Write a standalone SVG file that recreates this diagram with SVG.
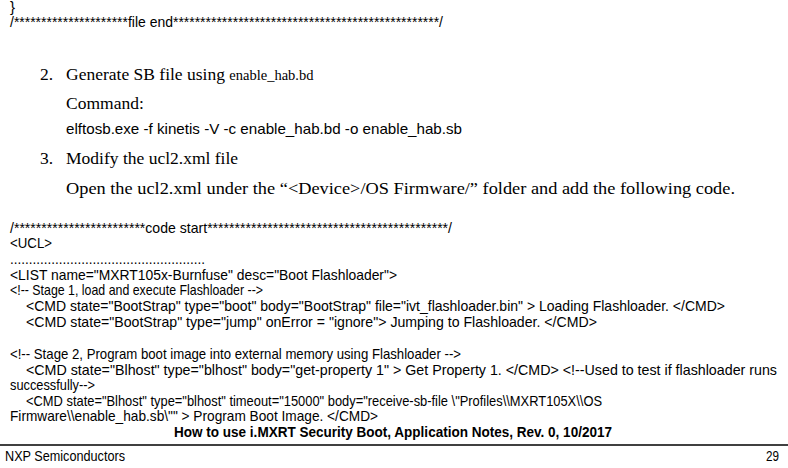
<svg xmlns="http://www.w3.org/2000/svg" width="788" height="468" viewBox="0 0 788 468">
<style>
.c{font-family:"Liberation Sans",Arial,sans-serif;font-size:15px;fill:#000}
.s{font-family:"Liberation Serif","Times New Roman",serif;font-size:17.5px;fill:#000}
.ss{font-family:"Liberation Serif","Times New Roman",serif;font-size:14.5px;fill:#000}
.a{font-family:"Liberation Sans",Arial,sans-serif;font-size:15px;fill:#000}
.b{font-family:"Liberation Sans",Arial,sans-serif;font-size:15px;font-weight:bold;fill:#000}
</style>
<rect width="788" height="468" fill="#fff"/>
<g id="top-code">
<text class="c" x="10" y="12">}</text>
<text class="c" x="10" y="27" textLength="433" lengthAdjust="spacingAndGlyphs">/*********************file  end*************************************************/</text>
</g>
<g id="step2">
<text class="s" x="40" y="80">2.</text>
<text class="s" x="66" y="80">Generate SB file using <tspan class="ss">enable_hab.bd</tspan></text>
<text class="s" x="66" y="109">Command:</text>
<text class="a" x="66" y="134" textLength="396" lengthAdjust="spacingAndGlyphs">elftosb.exe -f kinetis -V -c enable_hab.bd -o enable_hab.sb</text>
</g>
<g id="step3">
<text class="s" x="40" y="164">3.</text>
<text class="s" x="66" y="164">Modify the ucl2.xml file</text>
<text class="s" x="66" y="194" textLength="669" lengthAdjust="spacingAndGlyphs">Open the ucl2.xml under the “&lt;Device&gt;/OS Firmware/” folder and add the following code.</text>
</g>
<g id="code">
<text class="c" x="10" y="233" textLength="442" lengthAdjust="spacingAndGlyphs">/************************code start********************************************/</text>
<text class="c" x="10" y="248" textLength="42" lengthAdjust="spacingAndGlyphs">&lt;UCL&gt;</text>
<text class="c" x="10" y="264" textLength="195" lengthAdjust="spacingAndGlyphs">....................................................</text>
<text class="c" x="10" y="280" textLength="387" lengthAdjust="spacingAndGlyphs">&lt;LIST name="MXRT105x-Burnfuse" desc="Boot Flashloader"&gt;</text>
<text class="c" x="10" y="295" textLength="253" lengthAdjust="spacingAndGlyphs">&lt;!-- Stage 1, load and execute Flashloader --&gt;</text>
<text class="c" x="26" y="311" textLength="699" lengthAdjust="spacingAndGlyphs">&lt;CMD state="BootStrap" type="boot" body="BootStrap" file="ivt_flashloader.bin" &gt; Loading Flashloader. &lt;/CMD&gt;</text>
<text class="c" x="26" y="327" textLength="571" lengthAdjust="spacingAndGlyphs">&lt;CMD state="BootStrap" type="jump"  onError = "ignore"&gt; Jumping to Flashloader. &lt;/CMD&gt;</text>
<text class="c" x="10" y="359" textLength="451" lengthAdjust="spacingAndGlyphs">&lt;!-- Stage 2, Program boot image into external memory using Flashloader --&gt;</text>
<text class="c" x="26" y="375" textLength="751" lengthAdjust="spacingAndGlyphs">&lt;CMD state="Blhost" type="blhost" body="get-property 1" &gt; Get Property 1. &lt;/CMD&gt; &lt;!--Used to test if flashloader runs</text>
<text class="c" x="10" y="390" textLength="85" lengthAdjust="spacingAndGlyphs">successfully--&gt;</text>
<text class="c" x="26" y="406" textLength="576" lengthAdjust="spacingAndGlyphs">&lt;CMD state="Blhost" type="blhost" timeout="15000" body="receive-sb-file \"Profiles\\MXRT105X\\OS</text>
<text class="c" x="10" y="421" textLength="368" lengthAdjust="spacingAndGlyphs">Firmware\\enable_hab.sb\"" &gt; Program Boot Image. &lt;/CMD&gt;</text>
</g>
<g id="footer">
<text class="b" x="174" y="437" textLength="438" lengthAdjust="spacingAndGlyphs">How to use i.MXRT Security Boot, Application Notes, Rev. 0, 10/2017</text>
<line x1="0" y1="445" x2="788" y2="445" stroke="#000" stroke-width="1.5"/>
<text class="c" x="5" y="461" textLength="120" lengthAdjust="spacingAndGlyphs">NXP Semiconductors</text>
<text class="c" x="766" y="461" textLength="13" lengthAdjust="spacingAndGlyphs">29</text>
</g>
</svg>
